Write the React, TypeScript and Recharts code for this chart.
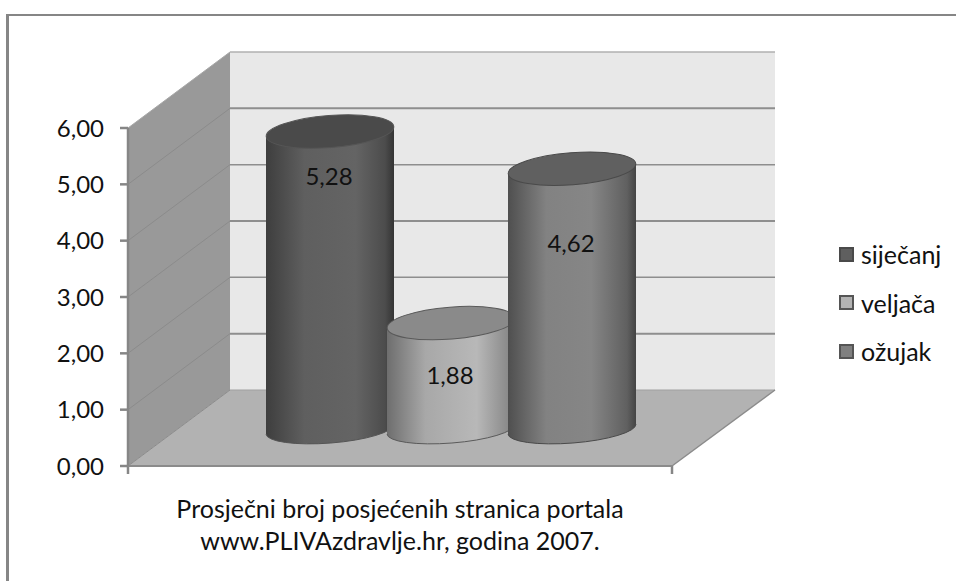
import React from 'react';
import { BarChart, Bar, XAxis, YAxis, Legend, LabelList } from 'recharts';

const categories = ['Prosječni broj posjećenih stranica portala\nwww.PLIVAzdravlje.hr, godina 2007.'];
const seriesNames = ['siječanj', 'veljača', 'ožujak'];
const sijecanjValues = [5.28];
const veljacaValues = [1.88];
const ozujakValues = [4.62];
const yTicks = [0, 1, 2, 3, 4, 5, 6];

const FONT = 'Lato, sans-serif';
const fmt = (v: number) => v.toFixed(2).replace('.', ',');

const chartData = categories.map((category, i) => ({
  category,
  sijecanj: sijecanjValues[i],
  veljaca: veljacaValues[i],
  ozujak: ozujakValues[i],
}));

// plot box and the fake 3d depth, the walls are only decoration
const LEFT = 128;
const RIGHT = 672;
const TOP = 128;
const BOTTOM = 466;
const DEPTH_X = 102;
const DEPTH_Y = 76;
const LEGEND_WIDTH = 111;
const unit = (BOTTOM - TOP) / 6;

const Walls = () => (
  <g>
    <rect x={LEFT + DEPTH_X} y={TOP - DEPTH_Y} width={RIGHT - LEFT + 1} height={BOTTOM - TOP} fill="#e8e8e8" />
    <polygon
      points={`${LEFT},${TOP} ${LEFT + DEPTH_X},${TOP - DEPTH_Y} ${LEFT + DEPTH_X},${BOTTOM - DEPTH_Y} ${LEFT},${BOTTOM}`}
      fill="#999999"
    />
    <polygon
      points={`${LEFT},${BOTTOM} ${LEFT + DEPTH_X},${BOTTOM - DEPTH_Y} ${RIGHT + DEPTH_X + 1},${BOTTOM - DEPTH_Y} ${RIGHT},${BOTTOM}`}
      fill="#b2b2b2"
    />
    {yTicks.map((t) => {
      const y = BOTTOM - t * unit;
      return (
        <g key={t}>
          <line x1={LEFT} y1={y} x2={LEFT + DEPTH_X} y2={y - DEPTH_Y} stroke={t === 6 ? '#a8a8a8' : '#8b8b8b'} strokeWidth={1} />
          {t > 0 && (
            <line
              x1={LEFT + DEPTH_X}
              y1={y - DEPTH_Y}
              x2={RIGHT + DEPTH_X + 1}
              y2={y - DEPTH_Y}
              stroke={t === 6 ? '#b0b0b0' : '#8e8e8e'}
              strokeWidth={t % 2 === 0 ? 1.5 : 2}
            />
          )}
        </g>
      );
    })}
    <line x1={LEFT + DEPTH_X} y1={BOTTOM - DEPTH_Y} x2={RIGHT + DEPTH_X + 1} y2={BOTTOM - DEPTH_Y} stroke="#a0a0a0" />
    <line x1={RIGHT} y1={BOTTOM} x2={RIGHT + DEPTH_X + 1} y2={BOTTOM - DEPTH_Y} stroke="#8b8b8b" strokeWidth={1.5} />
    <line x1={LEFT} y1={BOTTOM} x2={LEFT} y2={BOTTOM + 8} stroke="#868686" strokeWidth={2.5} />
    <line x1={RIGHT} y1={BOTTOM} x2={RIGHT} y2={BOTTOM + 8} stroke="#868686" strokeWidth={2.5} />
  </g>
);

const CaptionTick = ({ x, y, payload }: any) => (
  <text x={x} y={y} textAnchor="middle" fontFamily={FONT} fontSize={25} fill="#111">
    {String(payload.value)
      .split('\n')
      .map((line, i) => (
        <tspan key={i} x={x} y={BOTTOM + 52 + i * 32}>
          {line}
        </tspan>
      ))}
  </text>
);

const makeCylinder = (gradient: string, capFill: string, capStroke: string) => (props: any) => {
  const { x, y, width, height } = props;
  const rx = width / 2;
  const ry = 16;
  const baseRy = 14;
  const tilt = 5;
  const top = y - DEPTH_Y / 2 + 1;
  const base = y + height - DEPTH_Y / 2 + 1;
  const cx = x + DEPTH_X / 2 + rx;
  const l = cx - rx;
  const r = cx + rx;
  const body = `M${l},${top + tilt} L${l},${base + tilt} A${rx},${baseRy} -4.5 0 0 ${r},${base - tilt} L${r},${top - tilt} Z`;
  return (
    <g>
      <path d={body} fill={`url(#${gradient})`} />
      <path d={`M${l},${base + tilt} A${rx},${baseRy} -4.5 0 0 ${r},${base - tilt}`} fill="none" stroke={capStroke} strokeWidth={1} />
      <ellipse
        cx={cx}
        cy={top}
        rx={rx}
        ry={ry}
        transform={`rotate(-4.5 ${cx} ${top})`}
        fill={capFill}
        stroke={capStroke}
        strokeWidth={1}
      />
    </g>
  );
};

const makeLabel = (dropBelowTop: number) => (props: any) => {
  const { x, y, width, value } = props;
  return (
    <text
      x={x + DEPTH_X / 2 + width / 2 - 1}
      y={y - DEPTH_Y / 2 + dropBelowTop}
      textAnchor="middle"
      fontFamily={FONT}
      fontSize={24}
      fill="#111"
    >
      {fmt(value)}
    </text>
  );
};

const swatches = [
  { fill: '#5f5f5f', border: '#4a4a4a' },
  { fill: '#b3b3b3', border: '#555555' },
  { fill: '#808080', border: '#555555' },
];

const LegendBox = ({ payload }: any) => (
  <div style={{ fontFamily: FONT, fontSize: 25, color: '#111' }}>
    {(payload || []).map((item: any, i: number) => (
      <div key={item.value} style={{ display: 'flex', alignItems: 'center', height: 48.5 }}>
        <span
          style={{
            display: 'inline-block',
            boxSizing: 'border-box',
            width: 15,
            height: 15,
            marginRight: 7,
            background: swatches[i].fill,
            border: `2px solid ${swatches[i].border}`,
          }}
        />
        {item.value}
      </div>
    ))}
  </div>
);

const App = () => (
  <div style={{ position: 'absolute', left: 0, top: 0, width: 956, height: 581, background: '#fff', overflow: 'hidden' }}>
    <div
      style={{
        position: 'absolute',
        left: 6,
        top: 14,
        width: 960,
        height: 580,
        borderTop: '2px solid #868686',
        borderLeft: '3px solid #868686',
      }}
    />
    <BarChart
      style={{ position: 'absolute', left: 0, top: 0 }}
      width={956}
      height={581}
      data={chartData}
      margin={{ top: TOP, right: 956 - RIGHT - LEGEND_WIDTH, bottom: 0, left: 68 }}
      barGap={-7}
      barCategoryGap={0}
      barSize={128}
    >
      <defs>
        <linearGradient id="cyl1" x1="0" y1="0" x2="1" y2="0">
          <stop offset="0" stopColor="#3e3e3e" />
          <stop offset="0.3" stopColor="#5f5f5f" />
          <stop offset="0.7" stopColor="#646464" />
          <stop offset="0.93" stopColor="#4c4c4c" />
          <stop offset="1" stopColor="#343434" />
        </linearGradient>
        <linearGradient id="cyl2" x1="0" y1="0" x2="1" y2="0">
          <stop offset="0" stopColor="#6e6e6e" />
          <stop offset="0.3" stopColor="#a8a8a8" />
          <stop offset="0.7" stopColor="#b8b8b8" />
          <stop offset="1" stopColor="#808080" />
        </linearGradient>
        <linearGradient id="cyl3" x1="0" y1="0" x2="1" y2="0">
          <stop offset="0" stopColor="#4f4f4f" />
          <stop offset="0.3" stopColor="#828282" />
          <stop offset="0.65" stopColor="#868686" />
          <stop offset="0.93" stopColor="#606060" />
          <stop offset="1" stopColor="#444444" />
        </linearGradient>
      </defs>
      <Walls />
      <XAxis
        dataKey="category"
        height={581 - BOTTOM}
        tick={<CaptionTick />}
        tickLine={false}
        interval={0}
        stroke="#8b8b8b"
        strokeWidth={2}
      />
      <YAxis
        width={60}
        domain={[0, 6]}
        ticks={yTicks}
        interval={0}
        tickFormatter={fmt}
        tickSize={8}
        tickMargin={16}
        stroke="#868686"
        strokeWidth={2.5}
        tick={{ fontFamily: FONT, fontSize: 24, fill: '#111' }}
      />
      <Legend
        layout="vertical"
        align="right"
        verticalAlign="top"
        itemSorter={null}
        content={<LegendBox />}
        wrapperStyle={{ position: 'absolute', left: 839, top: 230, width: LEGEND_WIDTH }}
      />
      <Bar dataKey="sijecanj" name={seriesNames[0]} isAnimationActive={false} shape={makeCylinder('cyl1', '#4a4a4a', '#555555')}>
        <LabelList dataKey="sijecanj" content={makeLabel(54)} />
      </Bar>
      <Bar dataKey="veljaca" name={seriesNames[1]} isAnimationActive={false} shape={makeCylinder('cyl2', '#8a8a8a', '#5a5a5a')}>
        <LabelList dataKey="veljaca" content={makeLabel(62)} />
      </Bar>
      <Bar dataKey="ozujak" name={seriesNames[2]} isAnimationActive={false} shape={makeCylinder('cyl3', '#606060', '#4a4a4a')}>
        <LabelList dataKey="ozujak" content={makeLabel(84)} />
      </Bar>
    </BarChart>
  </div>
);

export default App;
